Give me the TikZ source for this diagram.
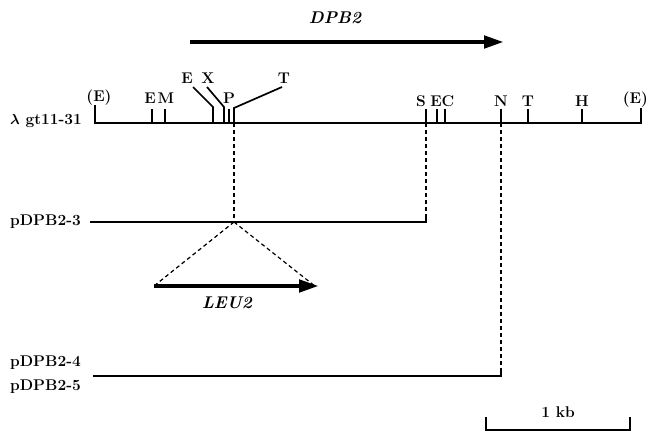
\documentclass[tikz,border=0pt]{standalone}
\usetikzlibrary{arrows.meta,positioning}
\tikzset{
  clone/.style={font=\fontsize{15.5}{17}\selectfont\bfseries,inner sep=0pt},
  site/.style={font=\fontsize{15.5}{17}\selectfont\bfseries,inner sep=0pt},
  gene/.style={font=\fontsize{17}{19}\selectfont\bfseries\itshape,inner sep=0pt},
  map/.style={line width=1.7pt,line join=miter},
  cut/.style={line width=1.2pt,dash pattern=on 4pt off 3pt},
  orf/.style={line width=4.5pt,-{Triangle[length=20pt,width=12pt]}}
}
\begin{document}
\begin{tikzpicture}[x=1pt,y=-1pt]
\useasboundingbox (0,0) rectangle (649,434);
% DPB2 reading frame
\node[gene] (dpb) at (335,18) {DPB2};
\coordinate (dpbL) at (190,42);
\coordinate (dpbR) at (504,42);
\draw[orf] (dpbL) -- (dpbR);
% lambda clone
\node[clone,anchor=east] (lam) at (82,121) {{\boldmath$\lambda$} gt11-31};
\coordinate (lamL) at (95,123);
\coordinate (lamR) at (641,123);
\coordinate (lamLt) at (95,105);
\coordinate (lamRt) at (641,108);
\draw[map] (lamLt) -- (lamL) -- (lamR) -- (lamRt);
\node[site] (eL) at (99,98) {(E)};
\node[site,anchor=east] (eR) at (648,100) {(E)};
\foreach \x/\lab/\y in {150/E/98,166/M/98,229/P/98,421/S/101,436/E/101,448/C/101,501/N/101,528/T/101,582/H/101}
  \node[site] (lbl-\x) at (\x,\y) {\lab};
\foreach \x in {152,165,229,426,437,445,501,528,582}
  \draw[map] (\x,123) -- (\x,109);
% sites on slanted leaders
\node[site] (eS) at (187,78) {E};
\node[site] (xS) at (208,78) {X};
\node[site] (tS) at (284,78) {T};
\coordinate (eS1) at (193,87); \coordinate (eS2) at (213,107); \coordinate (eS3) at (213,123);
\coordinate (xS1) at (207,87); \coordinate (xS2) at (224,107); \coordinate (xS3) at (224,123);
\coordinate (tS1) at (282,87); \coordinate (tS2) at (234,108); \coordinate (tS3) at (234,123);
\draw[map] (eS1) -- (eS2) -- (eS3);
\draw[map] (xS1) -- (xS2) -- (xS3);
\draw[map] (tS1) -- (tS2) -- (tS3);
% pDPB2-3
\node[clone,anchor=east] (p3) at (81,222) {pDPB2-3};
\coordinate (p3L) at (90,222);
\coordinate (p3M) at (234,222);
\coordinate (p3R) at (426,222);
\coordinate (sCut) at (426,123);
\draw[map] (p3L) -- (p3R) -- ++(0,-6);
\draw[cut] (tS3) -- (p3M);
\draw[cut] (sCut) -- (p3R);
% LEU2 insert
\coordinate (leuL) at (154,286);
\coordinate (leuR) at (319,286);
\draw[cut] (p3M) -- (leuL);
\draw[cut] (p3M) -- (316,287);
\draw[orf] (leuL) -- (leuR);
\node[gene] (leu) at (227,303) {LEU2};
% pDPB2-4 / pDPB2-5
\node[clone,anchor=east] (p4) at (81,363) {pDPB2-4};
\node[clone,anchor=east] (p5) at (81,387) {pDPB2-5};
\coordinate (p4L) at (93,376);
\coordinate (p4R) at (501,376);
\coordinate (nCut) at (501,123);
\draw[map] (p4L) -- (p4R) -- ++(0,-5);
\draw[cut] (nCut) -- (p4R);
% scale bar
\node[site] (kb) at (558,412) {1 kb};
\coordinate (barL) at (486,430);
\coordinate (barR) at (630,430);
\draw[map] (486,417) -- (barL) -- (barR) -- (630,417);
\end{tikzpicture}
\end{document}
